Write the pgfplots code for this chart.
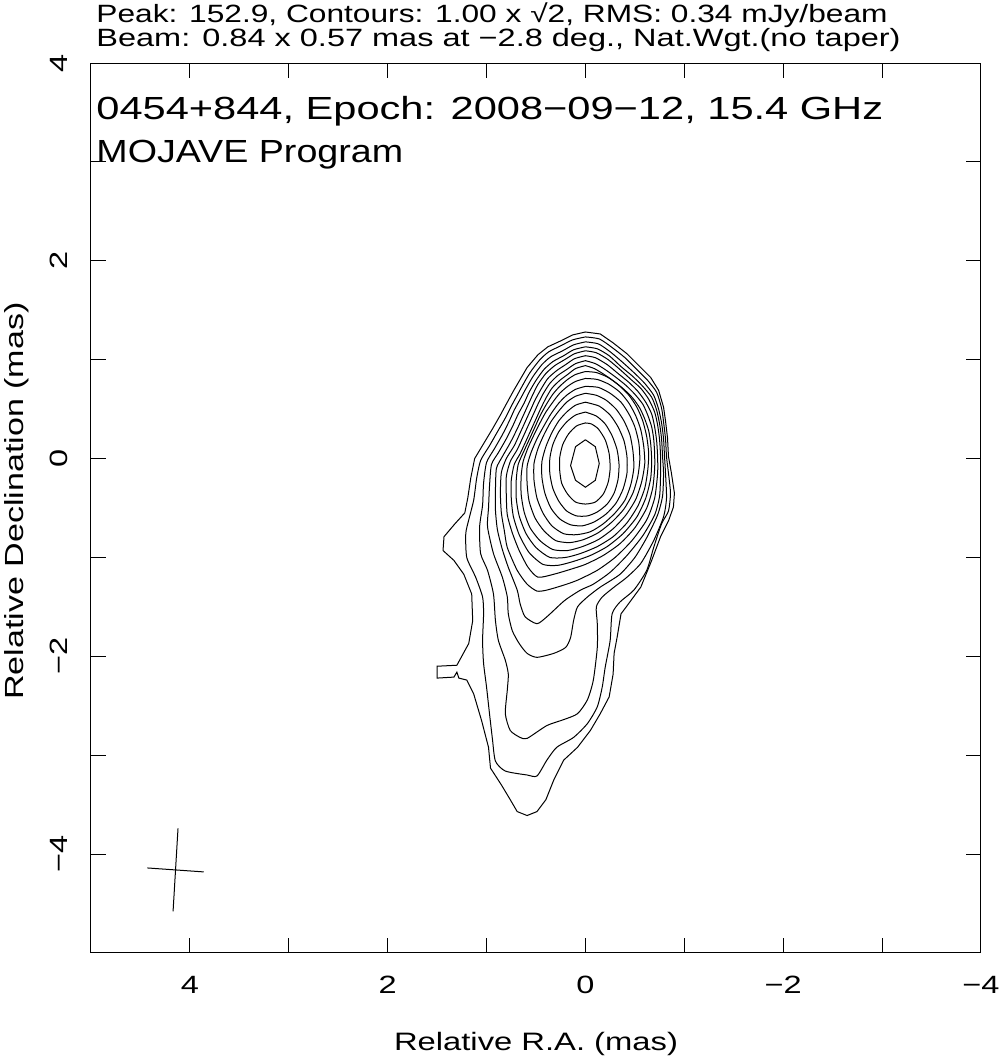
\documentclass[border=0pt]{standalone}
\usepackage{pgfplots}
\pgfplotsset{compat=1.18}
\usepackage{fontspec}
\setmainfont{Liberation Sans}[FakeStretch=1.3]
\begin{document}
\begin{tikzpicture}[x=1pt,y=1pt]
\begin{axis}[
  at={(0,0)}, anchor=south west,
  scale only axis, width=445pt, height=445pt,
  x dir=reverse, xmin=-4, xmax=5, ymin=-5, ymax=4,
  xtick={-4,-2,0,2,4}, minor xtick={-3,-1,1,3},
  ytick={-4,-2,0,2,4}, minor ytick={-5,-3,-1,1,3},
  xticklabels={−4,−2,0,2,4}, yticklabels={−4,−2,0,2,4},
  tick align=inside, major tick length=7.5pt, minor tick length=7.5pt,
  tick style={black, line width=0.5pt},
  axis line style={line width=0.5pt},
  xticklabel style={font=\fontsize{12.5}{15}\selectfont, anchor=base, yshift=-20pt},
  yticklabel style={font=\fontsize{12.5}{15}\selectfont, xshift=-11.5pt, rotate=90, anchor=base},
  cycle list={{black, mark=none}},
  every axis plot/.append style={black, line width=0.5pt, mark=none},
]
% C1 outermost
\addplot[black] coordinates {(0,1.28) (0.13,1.25) (0.25,1.19) (0.38,1.13) (0.48,1.05) (0.59,0.92) (0.66,0.80) (0.73,0.68) (0.79,0.57) (0.86,0.44) (0.94,0.30) (1.03,0.15) (1.12,0.0) (1.16,-0.2) (1.19,-0.4) (1.22,-0.55) (1.32,-0.66) (1.43,-0.79) (1.44,-0.93) (1.33,-1.03) (1.23,-1.17) (1.15,-1.37) (1.14,-1.64) (1.18,-1.87) (1.30,-2.09) (1.50,-2.10) (1.50,-2.22) (1.33,-2.21) (1.30,-2.16) (1.28,-2.22) (1.20,-2.24) (1.13,-2.38) (1.05,-2.65) (0.98,-2.92) (0.96,-3.13) (0.85,-3.30) (0.76,-3.45) (0.69,-3.57) (0.59,-3.61) (0.49,-3.57) (0.40,-3.45) (0.32,-3.25) (0.22,-3.05) (0.08,-2.92) (-0.05,-2.75) (-0.15,-2.58) (-0.24,-2.41) (-0.28,-2.18) (-0.29,-1.97) (-0.32,-1.81) (-0.36,-1.57) (-0.42,-1.49) (-0.56,-1.30) (-0.67,-1.03) (-0.76,-0.79) (-0.84,-0.63) (-0.89,-0.49) (-0.90,-0.35) (-0.87,-0.15) (-0.84,0.02) (-0.83,0.21) (-0.81,0.38) (-0.79,0.52) (-0.74,0.69) (-0.66,0.82) (-0.56,0.92) (-0.42,1.06) (-0.28,1.17) (-0.15,1.26) (0,1.28)};
% C2
\addplot[black, smooth, tension=0.4] coordinates {(0,1.23) (0.13,1.20) (0.25,1.14) (0.37,1.08) (0.46,1.00) (0.56,0.87) (0.63,0.75) (0.69,0.64) (0.75,0.53) (0.81,0.41) (0.89,0.27) (0.97,0.13) (1.06,-0.02) (1.10,-0.2) (1.13,-0.42) (1.18,-0.62) (1.21,-0.76) (1.20,-1.00) (1.11,-1.20) (1.04,-1.40) (1.03,-1.57) (1.04,-1.84) (1.03,-2.07) (1.00,-2.31) (0.97,-2.58) (0.94,-2.84) (0.91,-3.06) (0.81,-3.16) (0.59,-3.20) (0.49,-3.21) (0.39,-3.05) (0.29,-2.92) (0.12,-2.82) (-0.02,-2.68) (-0.12,-2.51) (-0.17,-2.31) (-0.20,-2.11) (-0.25,-1.84) (-0.27,-1.57) (-0.35,-1.45) (-0.49,-1.33) (-0.62,-1.13) (-0.69,-0.90) (-0.77,-0.66) (-0.84,-0.53) (-0.86,-0.35) (-0.84,-0.15) (-0.82,0.02) (-0.81,0.20) (-0.79,0.37) (-0.77,0.51) (-0.72,0.67) (-0.63,0.79) (-0.53,0.89) (-0.40,1.02) (-0.26,1.13) (-0.14,1.21) (0,1.23)};
% C3
\addplot[black, smooth, tension=0.4] coordinates {(0,1.18) (0.12,1.15) (0.23,1.09) (0.35,1.03) (0.44,0.95) (0.53,0.83) (0.60,0.71) (0.66,0.60) (0.72,0.49) (0.77,0.38) (0.84,0.24) (0.92,0.10) (1.00,-0.04) (1.03,-0.25) (1.04,-0.47) (1.07,-0.69) (1.06,-0.96) (0.99,-1.13) (0.93,-1.37) (0.91,-1.64) (0.88,-1.84) (0.81,-2.04) (0.78,-2.18) (0.79,-2.34) (0.81,-2.58) (0.76,-2.75) (0.66,-2.82) (0.59,-2.83) (0.39,-2.70) (0.22,-2.64) (0.08,-2.58) (-0.02,-2.44) (-0.08,-2.24) (-0.12,-1.91) (-0.12,-1.67) (-0.11,-1.50) (-0.17,-1.40) (-0.29,-1.30) (-0.42,-1.20) (-0.56,-1.06) (-0.69,-0.83) (-0.79,-0.59) (-0.82,-0.40) (-0.81,-0.15) (-0.80,0.02) (-0.79,0.20) (-0.77,0.36) (-0.74,0.50) (-0.69,0.64) (-0.60,0.76) (-0.50,0.86) (-0.38,0.97) (-0.25,1.08) (-0.13,1.16) (0,1.18)};
% C4
\addplot[black, smooth, tension=0.4] coordinates {(0,1.13) (0.12,1.10) (0.22,1.04) (0.33,0.98) (0.42,0.90) (0.50,0.79) (0.57,0.67) (0.62,0.56) (0.68,0.45) (0.73,0.34) (0.80,0.20) (0.88,0.06) (0.95,-0.06) (0.97,-0.28) (0.98,-0.50) (0.99,-0.69) (0.93,-0.96) (0.84,-1.20) (0.79,-1.40) (0.78,-1.57) (0.74,-1.74) (0.67,-1.87) (0.59,-1.97) (0.49,-2.01) (0.32,-1.97) (0.20,-1.91) (0.15,-1.81) (0.12,-1.64) (0.08,-1.50) (-0.02,-1.40) (-0.15,-1.30) (-0.35,-1.17) (-0.50,-1.00) (-0.62,-0.80) (-0.73,-0.57) (-0.78,-0.38) (-0.79,-0.15) (-0.78,0.02) (-0.77,0.20) (-0.75,0.35) (-0.72,0.49) (-0.67,0.62) (-0.58,0.73) (-0.48,0.83) (-0.36,0.93) (-0.24,1.04) (-0.12,1.11) (0,1.13)};
% C5
\addplot[black, smooth, tension=0.4] coordinates {(0,1.09) (0.11,1.06) (0.21,1.00) (0.31,0.94) (0.40,0.86) (0.48,0.75) (0.54,0.63) (0.59,0.52) (0.64,0.41) (0.69,0.30) (0.76,0.16) (0.84,0.02) (0.90,-0.10) (0.91,-0.32) (0.91,-0.52) (0.89,-0.72) (0.84,-0.92) (0.78,-1.10) (0.69,-1.33) (0.66,-1.47) (0.61,-1.60) (0.49,-1.67) (0.39,-1.60) (0.25,-1.47) (0.19,-1.42) (0.05,-1.33) (-0.08,-1.27) (-0.25,-1.15) (-0.42,-0.98) (-0.58,-0.78) (-0.70,-0.57) (-0.75,-0.38) (-0.76,-0.15) (-0.76,0.02) (-0.75,0.19) (-0.73,0.34) (-0.70,0.47) (-0.64,0.60) (-0.56,0.71) (-0.46,0.80) (-0.35,0.90) (-0.23,1.00) (-0.11,1.07) (0,1.09)};
% C6
\addplot[black, smooth, tension=0.4] coordinates {(0,1.04) (0.11,1.01) (0.20,0.95) (0.29,0.89) (0.38,0.81) (0.45,0.70) (0.51,0.59) (0.56,0.48) (0.61,0.37) (0.66,0.26) (0.72,0.13) (0.80,0.0) (0.85,-0.14) (0.86,-0.35) (0.85,-0.55) (0.82,-0.73) (0.79,-0.90) (0.69,-1.13) (0.59,-1.27) (0.49,-1.34) (0.39,-1.33) (0.22,-1.28) (0.08,-1.23) (-0.12,-1.13) (-0.30,-1.00) (-0.47,-0.83) (-0.62,-0.62) (-0.70,-0.40) (-0.73,-0.15) (-0.73,0.02) (-0.72,0.18) (-0.70,0.32) (-0.67,0.45) (-0.61,0.57) (-0.53,0.68) (-0.44,0.77) (-0.33,0.86) (-0.22,0.95) (-0.10,1.02) (0,1.04)};
% C7
\addplot[black, smooth, tension=0.4] coordinates {(0,0.99) (0.10,0.96) (0.19,0.90) (0.28,0.84) (0.36,0.76) (0.43,0.65) (0.48,0.55) (0.53,0.44) (0.58,0.33) (0.63,0.22) (0.69,0.09) (0.76,-0.03) (0.80,-0.18) (0.80,-0.38) (0.79,-0.57) (0.74,-0.75) (0.67,-0.93) (0.58,-1.10) (0.48,-1.20) (0.32,-1.17) (0.15,-1.12) (0.0,-1.07) (-0.18,-0.98) (-0.35,-0.86) (-0.50,-0.70) (-0.62,-0.50) (-0.68,-0.30) (-0.70,-0.10) (-0.70,0.05) (-0.69,0.20) (-0.67,0.32) (-0.63,0.44) (-0.58,0.55) (-0.50,0.65) (-0.41,0.74) (-0.31,0.82) (-0.20,0.90) (-0.10,0.96) (0,0.99)};
% C8
\addplot[black, smooth, tension=0.4] coordinates {(0,0.94) (0.10,0.91) (0.18,0.85) (0.26,0.79) (0.34,0.71) (0.40,0.61) (0.45,0.51) (0.50,0.40) (0.55,0.29) (0.60,0.18) (0.66,0.05) (0.72,-0.06) (0.75,-0.22) (0.75,-0.40) (0.73,-0.58) (0.67,-0.77) (0.57,-0.95) (0.43,-1.07) (0.28,-1.08) (0.12,-1.04) (-0.05,-0.98) (-0.22,-0.89) (-0.38,-0.76) (-0.52,-0.59) (-0.61,-0.40) (-0.66,-0.20) (-0.67,-0.02) (-0.66,0.15) (-0.64,0.28) (-0.60,0.40) (-0.55,0.51) (-0.48,0.61) (-0.39,0.70) (-0.29,0.78) (-0.19,0.85) (-0.09,0.91) (0,0.94)};
% C9
\addplot[black, smooth, tension=0.4] coordinates {(0,0.88) (0.10,0.85) (0.18,0.80) (0.26,0.73) (0.33,0.65) (0.40,0.54) (0.46,0.43) (0.51,0.32) (0.56,0.21) (0.62,0.08) (0.68,-0.06) (0.70,-0.22) (0.70,-0.40) (0.67,-0.58) (0.60,-0.76) (0.50,-0.90) (0.36,-1.00) (0.20,-1.00) (0.05,-0.96) (-0.12,-0.89) (-0.28,-0.79) (-0.42,-0.65) (-0.53,-0.48) (-0.60,-0.30) (-0.63,-0.12) (-0.64,0.05) (-0.62,0.22) (-0.58,0.38) (-0.52,0.52) (-0.44,0.64) (-0.34,0.74) (-0.23,0.82) (-0.11,0.87) (0,0.88)};
% C10
\addplot[black, smooth, tension=0.4] coordinates {(0,0.81) (0.10,0.78) (0.18,0.73) (0.26,0.66) (0.33,0.57) (0.40,0.47) (0.46,0.36) (0.52,0.24) (0.58,0.11) (0.63,-0.03) (0.65,-0.18) (0.65,-0.36) (0.62,-0.54) (0.56,-0.70) (0.46,-0.83) (0.33,-0.92) (0.18,-0.93) (0.03,-0.89) (-0.13,-0.82) (-0.28,-0.71) (-0.41,-0.57) (-0.51,-0.41) (-0.57,-0.23) (-0.60,-0.05) (-0.59,0.12) (-0.56,0.29) (-0.51,0.43) (-0.44,0.56) (-0.35,0.67) (-0.24,0.75) (-0.12,0.80) (0,0.81)};
% C11
\addplot[black, smooth, tension=0.4] coordinates {(0,0.73) (0.10,0.70) (0.19,0.64) (0.27,0.56) (0.35,0.45) (0.42,0.33) (0.49,0.20) (0.55,0.06) (0.59,-0.08) (0.59,-0.25) (0.57,-0.43) (0.51,-0.60) (0.42,-0.73) (0.30,-0.83) (0.16,-0.85) (0.02,-0.82) (-0.13,-0.75) (-0.27,-0.64) (-0.39,-0.51) (-0.48,-0.35) (-0.53,-0.18) (-0.55,-0.01) (-0.54,0.16) (-0.50,0.32) (-0.44,0.45) (-0.36,0.57) (-0.25,0.66) (-0.13,0.72) (0,0.73)};
% C12
\addplot[black, smooth, tension=0.4] coordinates {(0,0.66) (0.10,0.63) (0.19,0.57) (0.27,0.48) (0.35,0.37) (0.42,0.24) (0.48,0.10) (0.52,-0.05) (0.52,-0.22) (0.49,-0.40) (0.43,-0.55) (0.34,-0.68) (0.22,-0.76) (0.09,-0.77) (-0.05,-0.74) (-0.18,-0.66) (-0.30,-0.55) (-0.40,-0.42) (-0.46,-0.26) (-0.49,-0.09) (-0.48,0.08) (-0.45,0.24) (-0.39,0.38) (-0.31,0.50) (-0.21,0.59) (-0.11,0.64) (0,0.66)};
% C13
\addplot[black, smooth, tension=0.4] coordinates {(0,0.57) (0.10,0.54) (0.19,0.47) (0.27,0.38) (0.34,0.26) (0.40,0.12) (0.44,-0.03) (0.44,-0.19) (0.41,-0.35) (0.35,-0.50) (0.26,-0.61) (0.15,-0.67) (0.03,-0.68) (-0.09,-0.64) (-0.21,-0.56) (-0.31,-0.45) (-0.38,-0.31) (-0.42,-0.15) (-0.42,0.02) (-0.39,0.18) (-0.33,0.32) (-0.25,0.44) (-0.14,0.53) (0,0.57)};
% C14
\addplot[black, smooth, tension=0.4] coordinates {(0,0.47) (0.10,0.44) (0.19,0.37) (0.27,0.27) (0.33,0.14) (0.36,0.0) (0.36,-0.15) (0.33,-0.30) (0.27,-0.43) (0.19,-0.53) (0.09,-0.58) (-0.02,-0.58) (-0.12,-0.54) (-0.22,-0.46) (-0.29,-0.35) (-0.33,-0.21) (-0.34,-0.06) (-0.32,0.09) (-0.27,0.23) (-0.20,0.35) (-0.11,0.43) (0,0.47)};
% C15
\addplot[black, smooth, tension=0.4] coordinates {(0,0.36) (0.09,0.33) (0.17,0.25) (0.23,0.14) (0.26,0.01) (0.26,-0.12) (0.24,-0.25) (0.18,-0.36) (0.10,-0.44) (0,-0.46) (-0.10,-0.44) (-0.18,-0.36) (-0.23,-0.24) (-0.25,-0.10) (-0.24,0.05) (-0.20,0.19) (-0.13,0.30) (-0.06,0.35) (0,0.36)};
% C16 innermost
\addplot[black] coordinates {(0,0.19) (-0.10,0.12) (-0.14,-0.05) (-0.10,-0.22) (0,-0.29) (0.10,-0.22) (0.15,-0.07) (0.10,0.12) (0,0.19)};
% beam cross
\addplot[black] coordinates {(4.12,-3.74) (4.17,-4.58)};
\addplot[black] coordinates {(4.43,-4.14) (3.86,-4.18)};
\end{axis}
% texts
\node[anchor=base west, inner sep=0pt, font=\fontsize{12.5}{15}\selectfont] at (2.5,465) {\scalebox{0.975}[1]{Peak: 152.9, Contours: 1.00 x √2, RMS: 0.34 mJy/beam}};
\node[anchor=base west, inner sep=0pt, font=\fontsize{12.5}{15}\selectfont] at (2.5,453) {Beam: 0.84 x 0.57 mas at −2.8 deg., Nat.Wgt.(no taper)};
\node[anchor=base west, inner sep=0pt, font=\fontsize{16}{19}\selectfont] at (2.5,416.5) {0454+844, Epoch: 2008−09−12, 15.4 GHz};
\node[anchor=base west, inner sep=0pt, font=\fontsize{16}{19}\selectfont] at (2.5,395) {\scalebox{0.905}[1]{MOJAVE Program}};
\node[anchor=base, inner sep=0pt, font=\fontsize{12.6}{15}\selectfont] at (222.5,-48.5) {Relative R.A. (mas)};
\node[anchor=base, inner sep=0pt, rotate=90, font=\fontsize{13.1}{16}\selectfont] at (-33.5,226) {Relative Declination (mas)};
\path (-45.5,-52.5) rectangle (455,476.5);
\end{tikzpicture}
\end{document}
